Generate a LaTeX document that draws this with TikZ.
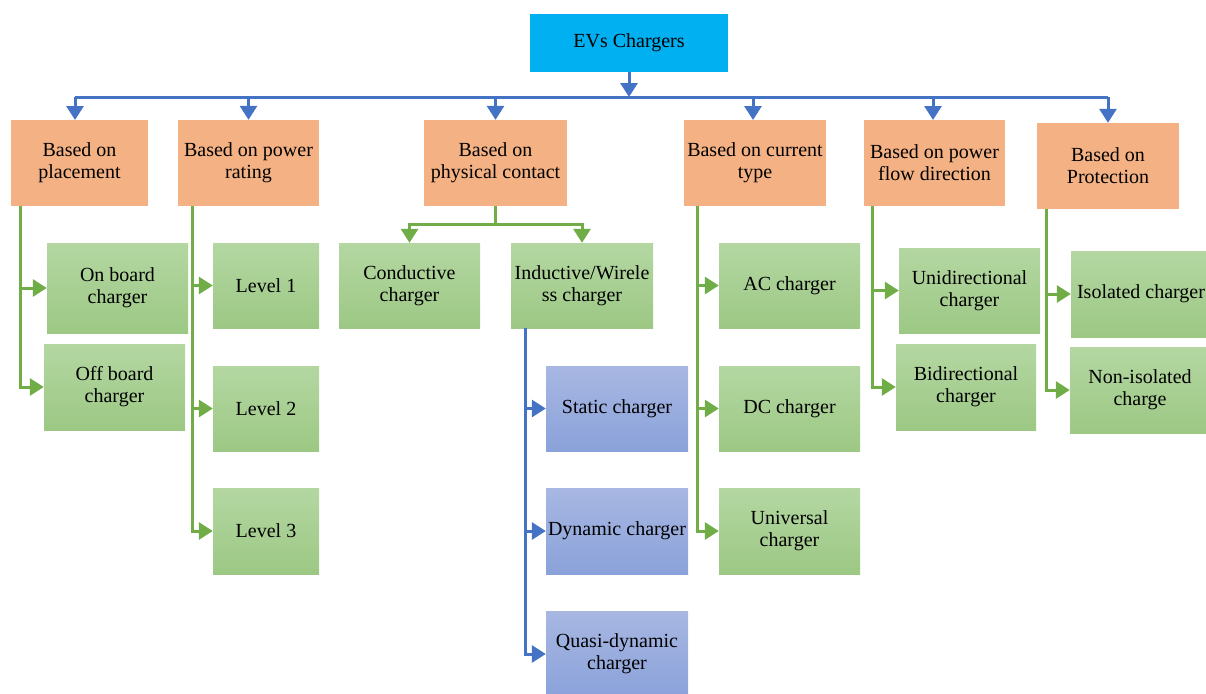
\documentclass[tikz,border=0pt]{standalone}
\usepackage{fontspec}
\setmainfont{Liberation Serif}
\usetikzlibrary{arrows.meta}
\definecolor{rootc}{HTML}{00B0F0}
\definecolor{catc}{HTML}{F4B183}
\definecolor{gtop}{HTML}{B4D7A2}
\definecolor{gbot}{HTML}{9CC884}
\definecolor{btop}{HTML}{A8B7E2}
\definecolor{bbot}{HTML}{8AA2DA}
\definecolor{gline}{HTML}{70AD47}
\definecolor{bline}{HTML}{4472C4}
\tikzset{
  bx/.style={rectangle, inner sep=0pt, align=center, font=\fontsize{20}{22}\selectfont, text=black},
  rootbox/.style={bx, fill=rootc},
  catbox/.style={bx, fill=catc},
  gbox/.style={bx, top color=gtop, bottom color=gbot},
  bbox/.style={bx, top color=btop, bottom color=bbot},
  sz/.style 2 args={minimum width=#1pt, minimum height=#2pt},
  bluecon/.style={draw=bline, line width=3pt, -{Triangle[length=14pt,width=17pt]}},
  bluewire/.style={draw=bline, line width=3pt},
  greencon/.style={draw=gline, line width=3pt, -{Triangle[length=14pt,width=17pt]}},
}
\begin{document}
\begin{tikzpicture}[x=1pt,y=-1pt]
\useasboundingbox (0,0) rectangle (1206,693);
\clip (0,0) rectangle (1206,693);
% root
\node[rootbox, sz={198}{58}] (root) at (629,43) {EVs Chargers};
% categories
\node[catbox, sz={137}{86}] (c1) at (79.5,163) {Based on\\placement};
\node[catbox, sz={141}{86}] (c2) at (248.5,163) {Based on power\\rating};
\node[catbox, sz={143}{86}] (c3) at (495.5,163) {Based on\\physical contact};
\node[catbox, sz={142}{86}] (c4) at (755,163) {Based on current\\type};
\node[catbox, sz={141}{86}] (c5) at (934.5,163) {Based on power\\flow direction};
\node[catbox, sz={142}{86}] (c6) at (1108,166) {Based on\\Protection};
% children
\node[gbox, sz={141}{90}] (p1) at (117.5,288) {On board\\charger};
\node[gbox, sz={141}{86}] (p2) at (114.5,387) {Off board\\charger};
\node[gbox, sz={106}{85}] (l1) at (266,285.5) {Level 1};
\node[gbox, sz={106}{85}] (l2) at (266,408.5) {Level 2};
\node[gbox, sz={106}{86}] (l3) at (266,531) {Level 3};
\node[gbox, sz={141}{85}] (cond) at (409.5,285.5) {Conductive\\charger};
\node[gbox, sz={142}{85}] (ind) at (582,285.5) {Inductive/Wirele\\ss charger};
\node[bbox, sz={142}{85}] (s1) at (617,408.5) {Static charger};
\node[bbox, sz={142}{86}] (s2) at (617,531) {Dynamic charger};
\node[bbox, sz={142}{86}] (s3) at (617,654) {Quasi-dynamic\\charger};
\node[gbox, sz={141}{85}] (ac) at (789.5,285.5) {AC charger};
\node[gbox, sz={141}{85}] (dc) at (789.5,408.5) {DC charger};
\node[gbox, sz={141}{86}] (un) at (789.5,531) {Universal\\charger};
\node[gbox, sz={141}{85}] (ud) at (969.5,290.5) {Unidirectional\\charger};
\node[gbox, sz={140}{86}] (bd) at (966,387) {Bidirectional\\charger};
\node[gbox, sz={140}{86}] (iso) at (1141,294) {Isolated charger};
\node[gbox, sz={140}{86}] (niso) at (1140,390) {Non-isolated\\charge};
% top bus
\coordinate (bus) at (629,97);
\coordinate (busL) at (75,97);
\coordinate (busR) at (1108,97);
\draw[bluewire] (busL) -- (busR);
\draw[bluecon] (root.south) -- (root.south |- bus);
\draw[bluecon] (75,97) -- (75,120);
\draw[bluecon] (c2.north |- bus) -- (c2.north);
\draw[bluecon] (c3.north |- bus) -- (c3.north);
\draw[bluecon] (753,97) -- (753,120);
\draw[bluecon] (933,97) -- (933,120);
\draw[bluecon] (busR) -- (c6.north);
% column 1
\coordinate (t1) at (20,206);
\draw[greencon] (t1) |- (p2.west);
\draw[greencon] (t1 |- p1.west) -- (p1.west);
% column 2
\coordinate (t2) at (192,206);
\draw[greencon] (t2) |- (l3.west);
\draw[greencon] (t2 |- l1.west) -- (l1.west);
\draw[greencon] (t2 |- l2.west) -- (l2.west);
% column 3
\draw[greencon] (c3.south) -- ++(0,18) -| (cond.north);
\draw[greencon] (c3.south) -- ++(0,18) -| (ind.north);
\coordinate (t3) at (525,328);
\draw[bluecon] (t3) |- (s3.west);
\draw[bluecon] (t3 |- s1.west) -- (s1.west);
\draw[bluecon] (t3 |- s2.west) -- (s2.west);
% column 4
\coordinate (t4) at (697,206);
\draw[greencon] (t4) |- (un.west);
\draw[greencon] (t4 |- ac.west) -- (ac.west);
\draw[greencon] (t4 |- dc.west) -- (dc.west);
% column 5
\coordinate (t5) at (872,206);
\draw[greencon] (t5) |- (bd.west);
\draw[greencon] (t5 |- ud.west) -- (ud.west);
% column 6
\coordinate (t6) at (1046,209);
\draw[greencon] (t6) |- (niso.west);
\draw[greencon] (t6 |- iso.west) -- (iso.west);
\end{tikzpicture}
\end{document}
